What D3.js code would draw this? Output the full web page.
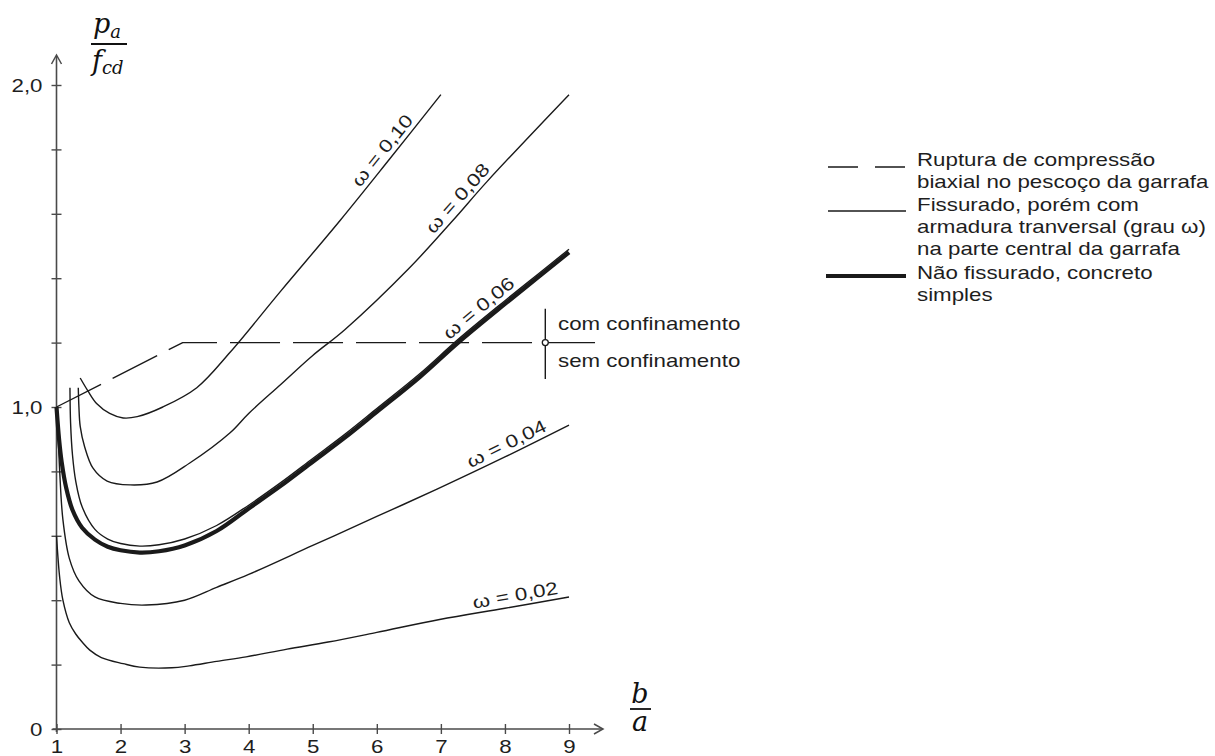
<!DOCTYPE html>
<html>
<head>
<meta charset="utf-8">
<script src="https://cdn.jsdelivr.net/npm/d3@7"></script>
<style>
  html, body { margin: 0; padding: 0; background: #fff; }
  svg { display: block; }
  .lbl { font-family: "Liberation Sans", Arial, sans-serif; fill: #1e1e1e; }
  .math { font-family: "DejaVu Serif", "Liberation Serif", serif; font-style: italic; fill: #111; }
</style>
</head>
<body>
<svg id="chart" width="1215" height="756"></svg>
<script>
// ---- axis ticks -------------------------------------------------------
const xTickValues = [1, 2, 3, 4, 5, 6, 7, 8, 9];
const yTickValues = [0, 0.2, 0.4, 0.6, 0.8, 1.0, 1.2, 1.4, 1.6, 1.8, 2.0];
const yTickLabels = ["0", "1,0", "2,0"];
const yLabelledTicks = [0, 1, 2];

// ---- curves: [b/a, p_a/f_cd] -----------------------------------------
// uncracked plain concrete
const uncracked = [[1.0,1.0],[1.04,0.9],[1.08,0.83],[1.15,0.75],[1.25,0.68],[1.4,0.625],[1.6,0.588],
  [1.8,0.566],[2.0,0.555],[2.3,0.548],[2.6,0.552],[3.0,0.57],[3.5,0.615],[4.0,0.685],[4.5,0.755],
  [5.0,0.83],[5.5,0.905],[6.0,0.985],[6.67,1.093],[7.27,1.2],[8.0,1.32],[8.5,1.4],[9.0,1.48]];
// cracked, transverse reinforcement ratio ω
const omega002 = [[1.0,0.6],[1.05,0.47],[1.1,0.4],[1.2,0.33],[1.3,0.295],[1.4,0.27],[1.52,0.245],
  [1.7,0.222],[2.04,0.203],[2.3,0.192],[2.8,0.19],[3.07,0.196],[3.5,0.21],[3.96,0.224],[4.6,0.248],
  [5.24,0.27],[6.0,0.3],[6.98,0.34],[8.0,0.375],[9.0,0.41]];
const omega004 = [[1.02,0.95],[1.05,0.8],[1.1,0.65],[1.2,0.53],[1.35,0.46],[1.6,0.41],[2.0,0.39],
  [2.4,0.385],[3.0,0.4],[3.5,0.44],[4.0,0.48],[5.0,0.57],[6.0,0.66],[6.94,0.745],[8.0,0.845],[9.0,0.944]];
const omega006 = [[1.21,1.06],[1.22,0.95],[1.25,0.85],[1.3,0.77],[1.4,0.69],[1.6,0.62],[1.8,0.59],
  [2.0,0.576],[2.3,0.568],[2.6,0.572],[3.0,0.59],[3.5,0.632],[4.0,0.695],[4.5,0.765],[5.0,0.84],
  [5.5,0.915],[6.0,0.995],[6.67,1.103],[7.27,1.21],[8.0,1.33],[8.5,1.41],[9.0,1.49]];
const omega008 = [[1.34,1.06],[1.35,1.0],[1.37,0.94],[1.44,0.876],[1.57,0.81],[1.79,0.77],[2.15,0.758],
  [2.57,0.767],[3.08,0.826],[3.71,0.92],[4.0,0.98],[4.5,1.07],[5.0,1.16],[5.5,1.24],[6.5,1.43],
  [7.19,1.58],[7.72,1.7],[9.0,1.97]];
const omega010 = [[1.37,1.09],[1.49,1.05],[1.63,1.01],[1.83,0.98],[2.04,0.966],[2.26,0.97],[2.66,1.0],
  [3.19,1.06],[3.71,1.17],[4.5,1.36],[5.43,1.58],[6.2,1.77],[7.0,1.97]];
// biaxial compression failure at the bottle neck
const neckFailure = [[1.0,1.0],[2.97,1.2],[9.41,1.2]];

const curveNames = ["ω = 0,02", "ω = 0,04", "ω = 0,06", "ω = 0,08", "ω = 0,10"];
const curveLabelAt = [8.19, 8.1, 7.7, 7.39, 6.22];   // b/a where each name sits

const legendEntries = [
  ["Ruptura de compressão", "biaxial no pescoço da garrafa"],
  ["Fissurado, porém com", "armadura tranversal (grau ω)", "na parte central da garrafa"],
  ["Não fissurado, concreto", "simples"]
];

// ---- drawing ----------------------------------------------------------
const svg = d3.select("#chart");
const ink = "#1a1a1a";
const axisInk = "#4a4a4a";
const FS = 18, SX = 1.24;

const x = d3.scaleLinear().domain([1, 9]).range([56.5, 569]);
const y = d3.scaleLinear().domain([0, 2]).range([729, 85]);

function txt(parent, s, px, py, opts = {}) {
  return parent.append("text")
    .attr("class", "lbl")
    .attr("transform", `translate(${px},${py}) rotate(${opts.rot || 0}) scale(${SX},1)`)
    .attr("text-anchor", opts.anchor || "start")
    .attr("dominant-baseline", opts.base || "central")
    .attr("font-size", opts.fs || FS)
    .text(s);
}

// axes
const ax = svg.append("g");
const xAxis = d3.axisBottom(x).tickValues(xTickValues).tickSize(0).tickFormat(d => d);
const gx = ax.append("g").attr("transform", `translate(0,${y(0)})`).call(xAxis);
gx.select(".domain").remove();
gx.selectAll(".tick text").attr("class", "lbl").attr("font-size", FS)
  .attr("fill", "#1e1e1e").attr("y", 0).attr("dy", null)
  .attr("transform", `translate(0,24) scale(${SX},1)`)
  .attr("dominant-baseline", "auto");
gx.selectAll(".tick").append("line").attr("y1", -5).attr("y2", 5)
  .attr("stroke", axisInk).attr("stroke-width", 1.4);

const yAxis = d3.axisLeft(y).tickValues(yTickValues).tickSize(0)
  .tickFormat(d => { const i = yLabelledTicks.indexOf(Math.round(d * 10) / 10); return i >= 0 ? yTickLabels[i] : ""; });
const gy = ax.append("g").attr("transform", `translate(${x(1)},0)`).call(yAxis);
gy.select(".domain").remove();
gy.selectAll(".tick text").attr("class", "lbl").attr("font-size", FS).attr("x", 0).attr("dy", "0.35em")
  .attr("fill", "#1e1e1e").attr("transform", `translate(-14,0) scale(${SX},1)`);
gy.selectAll(".tick").append("line").attr("x1", -5).attr("x2", 5)
  .attr("stroke", axisInk).attr("stroke-width", 1.4);

// axis lines with open arrow heads
ax.append("line").attr("x1", x(1)).attr("x2", x(1)).attr("y1", y(0) + 3).attr("y2", 56)
  .attr("stroke", axisInk).attr("stroke-width", 1.6);
ax.append("path").attr("d", `M${x(1) - 5},${64} L${x(1)},${55} L${x(1) + 5},${64}`)
  .attr("fill", "none").attr("stroke", axisInk).attr("stroke-width", 1.5);
ax.append("line").attr("x1", x(1) - 4).attr("x2", 602).attr("y1", y(0)).attr("y2", y(0))
  .attr("stroke", axisInk).attr("stroke-width", 1.6);
ax.append("path").attr("d", `M594,${y(0) - 5} L603,${y(0)} L594,${y(0) + 5}`)
  .attr("fill", "none").attr("stroke", axisInk).attr("stroke-width", 1.5);

// axis titles as fractions
const yt = svg.append("g");
yt.append("text").attr("class", "math").attr("x", 93).attr("y", 33).attr("font-size", 27)
  .text("p").append("tspan").attr("font-size", 18).attr("dy", 5).text("a");
yt.append("line").attr("x1", 91).attr("x2", 127).attr("y1", 44).attr("y2", 44)
  .attr("stroke", "#111").attr("stroke-width", 1.8);
yt.append("text").attr("class", "math").attr("x", 92).attr("y", 70).attr("font-size", 27)
  .text("f").append("tspan").attr("font-size", 18).attr("dy", 4).text("cd");

const xt = svg.append("g");
xt.append("text").attr("class", "math").attr("x", 640).attr("y", 703).attr("font-size", 27)
  .attr("text-anchor", "middle").text("b");
xt.append("line").attr("x1", 630).attr("x2", 651).attr("y1", 709).attr("y2", 709)
  .attr("stroke", "#111").attr("stroke-width", 1.8);
xt.append("text").attr("class", "math").attr("x", 640).attr("y", 731).attr("font-size", 27)
  .attr("text-anchor", "middle").text("a");

// curves
const smooth = d3.line().x(d => x(d[0])).y(d => y(d[1])).curve(d3.curveCatmullRom.alpha(0.5));
const straight = d3.line().x(d => x(d[0])).y(d => y(d[1]));
const thinCurves = [omega002, omega004, omega006, omega008, omega010];
const cg = svg.append("g").attr("fill", "none").attr("stroke", ink).attr("stroke-linejoin", "round");

cg.append("path").attr("d", straight(neckFailure)).attr("stroke-width", 1.4)
  .attr("stroke-dasharray", "50,13");
cg.append("path").attr("d", smooth(uncracked)).attr("stroke-width", 4.2);
thinCurves.forEach(c => cg.append("path").attr("d", smooth(c)).attr("stroke-width", 1.4));

// names along the curves
function interp(c, bx) {
  for (let i = 1; i < c.length; i++) {
    if (c[i][0] >= bx) {
      const t = (bx - c[i - 1][0]) / (c[i][0] - c[i - 1][0]);
      return c[i - 1][1] + t * (c[i][1] - c[i - 1][1]);
    }
  }
  return c[c.length - 1][1];
}
thinCurves.forEach((c, i) => {
  const bx = curveLabelAt[i];
  const px = x(bx), py = y(interp(c, bx));
  const p2x = x(bx + 0.3), p2y = y(interp(c, bx + 0.3));
  const p1x = x(bx - 0.3), p1y = y(interp(c, bx - 0.3));
  const ang = Math.atan2(p2y - p1y, p2x - p1x) * 180 / Math.PI;
  txt(svg, curveNames[i], px, py, { rot: ang, anchor: "middle", base: "auto" })
    .attr("y", 0).attr("dy", -5);
});

// confinement marker
const mk = svg.append("g");
const mx = x(8.63);
mk.append("line").attr("x1", mx).attr("x2", mx).attr("y1", y(1.305)).attr("y2", y(1.087))
  .attr("stroke", ink).attr("stroke-width", 1.4);
mk.append("circle").attr("cx", mx).attr("cy", y(1.2)).attr("r", 3)
  .attr("fill", "#fff").attr("stroke", ink).attr("stroke-width", 1.3);
txt(mk, "com confinamento", 558, y(1.2) - 19);
txt(mk, "sem confinamento", 558, y(1.2) + 18);

// legend
const lg = svg.append("g");
const lx0 = 828, lx1 = 906, tx = 917;
const entryTop = [160, 205, 273];
const lineGap = 22;
legendEntries.forEach((lines, i) => {
  lines.forEach((s, j) => txt(lg, s, tx, entryTop[i] + j * lineGap));
});
lg.append("line").attr("x1", lx0).attr("x2", lx1).attr("y1", 167).attr("y2", 167)
  .attr("stroke", ink).attr("stroke-width", 1.4).attr("stroke-dasharray", "30,17");
lg.append("line").attr("x1", lx0).attr("x2", lx1).attr("y1", 211).attr("y2", 211)
  .attr("stroke", ink).attr("stroke-width", 1.4);
lg.append("line").attr("x1", lx0 - 2).attr("x2", lx1).attr("y1", 276).attr("y2", 276)
  .attr("stroke", ink).attr("stroke-width", 4.2);
</script>
</body>
</html>
